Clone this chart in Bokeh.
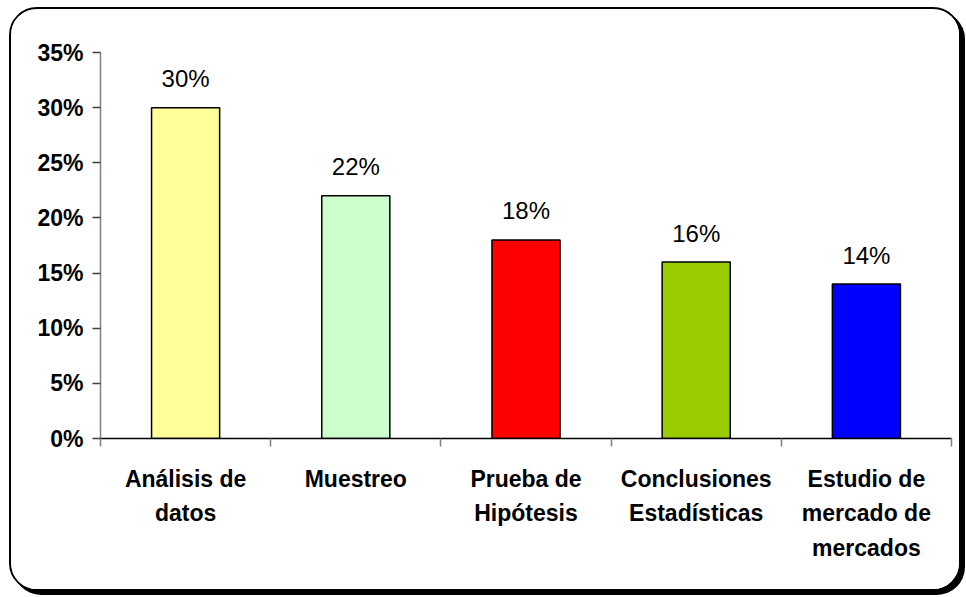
from bokeh.plotting import figure
from bokeh.models import FixedTicker, NumeralTickFormatter, Range1d
from bokeh.core.properties import value
from bokeh.embed import file_html
from bokeh.resources import INLINE

categories = ["Análisis de datos", "Muestreo", "Prueba de Hipótesis",
              "Conclusiones Estadísticas", "Estudio de mercado de mercados"]
tick_labels = ["Análisis de\ndatos", "Muestreo", "Prueba de\nHipótesis",
               "Conclusiones\nEstadísticas", "Estudio de\nmercado de\nmercados"]
values = [0.30, 0.22, 0.18, 0.16, 0.14]
value_labels = ["30%", "22%", "18%", "16%", "14%"]
colors = ["#FFFF99", "#CCFFCC", "#FF0000", "#99CC00", "#0000FF"]
y_ticks = [0.0, 0.05, 0.10, 0.15, 0.20, 0.25, 0.30, 0.35]

n = len(categories)
xs = [i + 0.5 for i in range(n)]
bounds = [i for i in range(n + 1)]

FONT = "Liberation Sans"

p = figure(width=952, height=584, output_backend="svg", toolbar_location=None,
           x_range=Range1d(0, n), y_range=Range1d(0, 0.35),
           min_border_left=89, min_border_right=12, min_border_top=43,
           min_border_bottom=155)
p.styles = {"border": "2px solid black", "border-radius": "28px",
            "box-shadow": "4px 4px 0 0 black", "overflow": "hidden",
            "background": "white", "margin": "7px 0 0 9px"}
p.background_fill_color = "white"
p.border_fill_color = "white"
p.outline_line_color = None
p.xgrid.grid_line_color = None
p.ygrid.grid_line_color = None

p.vbar(x=xs, top=values, bottom=0, width=0.4, fill_color=colors,
       line_color="black", line_width=1.5)

p.text(x=xs, y=values, text=value_labels, text_align="center",
       text_baseline="alphabetic", y_offset=-29, text_font_size="24px",
       text_font=value(FONT), text_color="black")

# y axis
ya = p.yaxis[0]
ya.ticker = FixedTicker(ticks=y_ticks, minor_ticks=[])
ya.formatter = NumeralTickFormatter(format="0%")
ya.axis_line_color = "#808080"
ya.axis_line_width = 1.5
ya.major_tick_line_color = "#404040"
ya.major_tick_line_width = 1.5
ya.major_tick_out = 8
ya.major_tick_in = 0
ya.minor_tick_line_color = None
ya.major_label_standoff = 9
ya.major_label_text_font = FONT
ya.major_label_text_font_style = "bold"
ya.major_label_text_font_size = "23px"
ya.major_label_text_color = "black"

# x axis
xa = p.xaxis[0]
xa.ticker = FixedTicker(ticks=xs, minor_ticks=bounds)
xa.major_label_overrides = {x: lab for x, lab in zip(xs, tick_labels)}
xa.axis_line_color = "black"
xa.axis_line_width = 1.5
xa.major_tick_line_color = None
xa.major_tick_out = 0
xa.major_tick_in = 0
xa.minor_tick_line_color = "#808080"
xa.minor_tick_line_width = 1.5
xa.minor_tick_out = 8
xa.minor_tick_in = 0
xa.major_label_standoff = 19
xa.major_label_text_font = FONT
xa.major_label_text_font_style = "bold"
xa.major_label_text_font_size = "23px"
xa.major_label_text_line_height = 1.34
xa.major_label_text_color = "black"

open("out.html", "w").write(file_html(p, INLINE))
